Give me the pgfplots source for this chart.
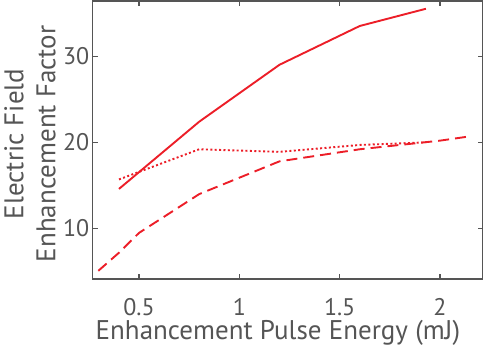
\documentclass[border=0pt]{standalone}
\usepackage{fontspec}
\setmainfont{PT Sans}
\usepackage{pgfplots}
\pgfplotsset{compat=1.18}
\definecolor{axgray}{RGB}{85,85,85}
\definecolor{lred}{RGB}{236,30,40}
\begin{document}
\begin{tikzpicture}[x=1pt,y=1pt]
\path[use as bounding box] (-92.7,-67) rectangle (392.3,279);
\begin{axis}[
  at={(0,0)}, anchor=south west,
  scale only axis, width=390pt, height=278pt,
  xmin=0.269, xmax=2.213, ymin=4.15, ymax=36.4,
  xtick={0.5,1,1.5,2}, ytick={10,20,30},
  xticklabels={0.5,1,1.5,2},
  tick align=inside, xtick pos=both, ytick pos=both,
  xticklabel pos=lower, yticklabel pos=left,
  major tick length=5pt,
  axis line style={axgray, line width=1.3pt},
  tick style={axgray, line width=1.3pt},
  ticklabel style={font=\fontsize{24}{28}\selectfont, text=axgray},
  xticklabel style={anchor=base, yshift=-36pt},
  /pgf/number format/assume math mode=true,
  xlabel={Enhancement Pulse Energy (mJ)},
  ylabel={Electric Field\\Enhancement Factor},
  label style={font=\fontsize{27}{32}\selectfont, text=axgray},
  xlabel style={at={(axis description cs:0.475,-0.219)}, anchor=base},
  ylabel style={at={(axis description cs:-0.161,0.486)}, anchor=center, align=center},
]
\addplot[lred, line width=1.9pt] coordinates {
  (0.40,14.6) (0.80,22.4) (1.20,29.0) (1.60,33.5) (1.93,35.5)
};
\addplot[lred, line width=1.9pt, dash pattern=on 2pt off 2.4pt] coordinates {
  (0.40,15.7) (0.80,19.2) (1.20,18.9) (1.60,19.7) (1.93,20.0)
};
\addplot[lred, line width=1.9pt, dash pattern=on 11pt off 6pt] coordinates {
  (0.297,5.1) (0.40,7.2) (0.50,9.5) (0.80,14.0) (1.20,17.8) (1.60,19.2) (2.00,20.2) (2.15,20.7)
};
\end{axis}
\end{tikzpicture}
\end{document}
